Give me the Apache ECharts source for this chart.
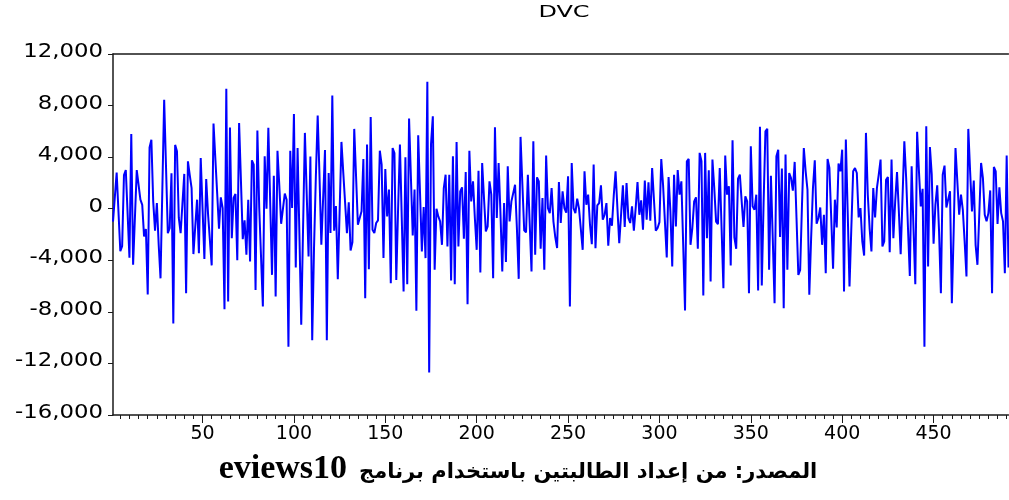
<!DOCTYPE html>
<html>
<head>
<meta charset="utf-8">
<script src="https://cdn.jsdelivr.net/npm/echarts@6/dist/echarts.min.js"></script>
<style>
  html, body { margin: 0; padding: 0; background: #ffffff; }
  #chart { width: 1009px; height: 500px; }
</style>
</head>
<body>
<div id="chart"></div>
<script>
// Series title and observations (one value per period)
const seriesName = 'DVC';
const dvc = [
  -1000, 900, 2800, -250, -3300, -2900, 2600, 3000, -400, -3800,
  5800, -4350, -4450, 3000, 2950, 700, 300, -2150, -1580, -6650,
  4750, 5350, 570, -1700, 440, -2800, -5400, 1500, 8450, 3300,
  -1900, -1500, 2750, -8900, 4950, 4450, -700, -1900, -1950, 2700,
  -6550, 3680, 2600, 1600, -3520, -1400, 700, -3450, 3940, 0,
  -3900, 2300, -400, -470, -4400, 6600, 3900, 1200, -1550, 880,
  50, -7800, 9300, -7200, 6300, -2280, 830, 1140, -4000, 6650,
  2200, -2360, -900, -3570, 700, -4100, 3750, 3420, -6300, 6060,
  130, 50, -7590, 4070, 0, 6270, 600, -5130, 2560, -6810,
  4500, 1800, -1170, 0, 1170, 700, -10700, 4500, 50, 7350,
  -4560, 4700, -2000, -9000, -1500, 5880, 1100, -3700, 4040, -10200,
  -3000, 2500, 7230, 2500, -2800, -2870, 4560, -10200, 2770, -1890,
  8780, -1700, 200, -5460, -200, 5180, 2800, 470, -1890, 490,
  -3240, -2600, 6190, 2500, -1240, -1320, -200, 3860, -6940, 4970,
  -4690, 7120, -1630, -1890, -1110, -900, 4500, 3420, -3830, 3080,
  -600, 1480, -5780, 4710, 4320, -5520, 0, 4970, -700, -6420,
  3990, -5850, 6990, 2500, -2070, 1480, -7920, 5700, 1200, -3310,
  130, -3830, 9840, -12700, 5000, 7170, -4740, 0, -600, -980,
  -2800, 1600, 2640, -2930, 2640, -5570, 4070, -5850, 5180, -2930,
  1350, 1660, -2330, 2850, -7400, 4500, 570, 2120, -720, -3190,
  2950, -4950, 3550, 830, -1760, -1370, 2120, 1100, -5390, 6320,
  -720, 3550, -300, -4870, 440, -4140, 3290, -980, 570, 620,
  1860, -1500, -5440, 5570, 1900, -1680, -1840, 2640, -1100, -4870,
  5230, -3570, 2430, 2120, -3100, 830, -4740, 4120, 50, -340,
  1600, -1000, -2200, -3050, 2070, -1110, 1350, 50, -300, 2510,
  -7590, 3550, 50, -340, 780, 0, 0, -3190, 2900, 310,
  1090, -1240, -2750, 3420, -3060, 260, 440, 1810, -850, -470,
  440, -2870, -720, -1320, 1010, 2900, 50, -2670, -470, 1810,
  -1420, 1990, -720, -1110, 180, -1710, 50, 2070, -470, 650,
  -1630, 2180, -850, 2050, -930, 3160, 700, -1710, -1500, -1040,
  3860, 1800, -1000, -3780, 2460, -210, -4480, 2640, -1370, 3000,
  1090, 2120, -2800, -7900, 3680, 3860, -2800, -1500, 570, 880,
  -3110, 4330, 3680, -6730, 4330, -2280, 2980, -5650, 3810, 1600,
  -1000, -1200, 3160, -1500, -6160, 4120, 1090, 1740, -4400, 5310,
  -2230, -3110, 2330, 2640, 570, -1420, 960, 570, -6550, 4840,
  180, -80, 1090, -6350, 6350, -5960, 500, 6000, 6200, -4740,
  2560, -2280, -7330, 4070, 4580, -2200, 3110, -7720, 4200, -4740,
  2770, 2380, 1400, 3630, -720, -5130, -4740, 300, 4710, 2900,
  1480, -6680, -2280, 1610, 3760, -1170, -720, 100, -2800, -470,
  -5000, 3860, 3160, -720, -4660, 700, -1450, 3500, 2900, 4580,
  -6420, 5360, -200, -6030, -1500, 2900, 3160, 2770, -670, 50,
  -2540, -3630, 5880, 1100, -1500, -3310, 1610, -670, 1610, 2640,
  3810, -2930, -2540, 2250, 2460, -3370, 3810, -2280, 570, 2850,
  -200, -3520, 830, 5230, 2380, -1500, -5210, 3290, -1500, -5850,
  5960, 2900, 180, 1550, -10700, 6400, -4480, 4790, 2640, -2720,
  300, 1810, -1760, -6550, 2640, 3340, 100, 50, 1350, -7330,
  -1760, 4710, 2120, -470, 1090, -80, -2540, -5260, 6190, 2900,
  -210, 2180, -2800, -4350, -470, 3550, 2380, -470, -980, -340,
  1420, -6550, 3240, 2900, -1190, 1660, -340, -980, -5000, 4120,
  -4560
];

// Value axis ticks
const yMin = -16000;
const yMax = 12000;
const yStep = 4000;
const yTicks = [12000, 8000, 4000, 0, -4000, -8000, -12000, -16000];
const xLabelStep = 50;   // labelled ticks
const xMinorStep = 5;    // small ticks

// Source note: Arabic phrase followed by the software name
const captionArabic = 'المصدر: من إعداد الطالبتين باستخدام برنامج';
const captionSoftware = 'eviews10';

// period numbers 1..N
const periods = dvc.map((_, i) => String(i + 1));

const axisColor = '#1a1a1a';
const labelFamily = '"DejaVu Sans", Arial, sans-serif';

const chart = echarts.init(document.getElementById('chart'), null, { renderer: 'canvas' });

chart.setOption({
  animation: false,
  backgroundColor: '#ffffff',
  grid: { left: 113, right: 0.5, top: 54, bottom: 85, containLabel: false, outerBoundsMode: 'none' },
  xAxis: [
    {
      type: 'category', data: periods, boundaryGap: false, position: 'bottom',
      axisLine: { show: true, onZero: false, lineStyle: { color: axisColor, width: 1.5 } },
      axisTick: { show: true, length: 4, lineStyle: { color: axisColor, width: 1 },
        interval: (i) => (i + 1) % xMinorStep === 0 },
      axisLabel: { show: true, margin: 10, color: '#000', fontFamily: labelFamily, fontSize: 19,
        interval: (i) => (i + 1) % xLabelStep === 0 },
      splitLine: { show: false }
    },
    {
      type: 'category', data: periods, boundaryGap: false, position: 'bottom',
      axisLine: { show: false, onZero: false },
      axisTick: { show: true, length: 8, lineStyle: { color: axisColor, width: 1 },
        interval: (i) => (i + 1) % xLabelStep === 0 },
      axisLabel: { show: false },
      splitLine: { show: false }
    },
    {
      type: 'category', data: periods, boundaryGap: false, position: 'top',
      axisLine: { show: true, onZero: false, lineStyle: { color: axisColor, width: 1.5 } },
      axisTick: { show: false },
      axisLabel: { show: false },
      splitLine: { show: false }
    }
  ],
  yAxis: {
    type: 'value', min: yMin, max: yMax, interval: yStep,
    axisLine: { show: true, lineStyle: { color: axisColor, width: 1.5 } },
    axisTick: { show: true, length: 5, lineStyle: { color: axisColor, width: 1 } },
    axisLabel: { show: false },
    splitLine: { show: false }
  },
  series: [{
    name: seriesName,
    type: 'line',
    xAxisIndex: 0,
    data: dvc,
    showSymbol: false,
    symbol: 'none',
    lineStyle: { color: '#0000ff', width: 2 },
    emphasis: { disabled: true }
  }]
});

// Wide value-axis labels, placed at each tick through the axis scale
const yLabelGraphics = yTicks.map((v) => ({
  type: 'text',
  x: 103,
  y: chart.convertToPixel({ yAxisIndex: 0 }, v) - 2,
  scaleX: 1.2,
  style: {
    text: v.toLocaleString('en-US'),
    fill: '#000',
    font: '19px ' + labelFamily,
    align: 'right',
    verticalAlign: 'middle'
  },
  silent: true
}));

chart.setOption({
  graphic: [
    {
      type: 'text', x: 564, y: 13, scaleX: 1.5,
      style: { text: seriesName, fill: '#000', font: '16px ' + labelFamily,
        align: 'center', verticalAlign: 'middle' }
    },
    {
      // right-to-left line: the software name sits at the left end
      type: 'text', x: 518, y: 468,
      style: {
        text: '{lat|' + captionSoftware + '}{gap| }{ar|' + captionArabic + '}',
        fill: '#000',
        align: 'center', verticalAlign: 'middle',
        rich: {
          lat: { font: 'bold 34px "Liberation Serif", "DejaVu Serif", serif', fill: '#000',
            verticalAlign: 'bottom', lineHeight: 36 },
          gap: { font: 'bold 20px "Liberation Serif", serif', width: 12, lineHeight: 36 },
          ar: { font: 'bold 21px "DejaVu Sans", "Noto Sans", sans-serif', fill: '#000',
            verticalAlign: 'bottom', lineHeight: 36, padding: [0, 0, 3, 0] }
        }
      }
    }
  ].concat(yLabelGraphics)
});
</script>
</body>
</html>
